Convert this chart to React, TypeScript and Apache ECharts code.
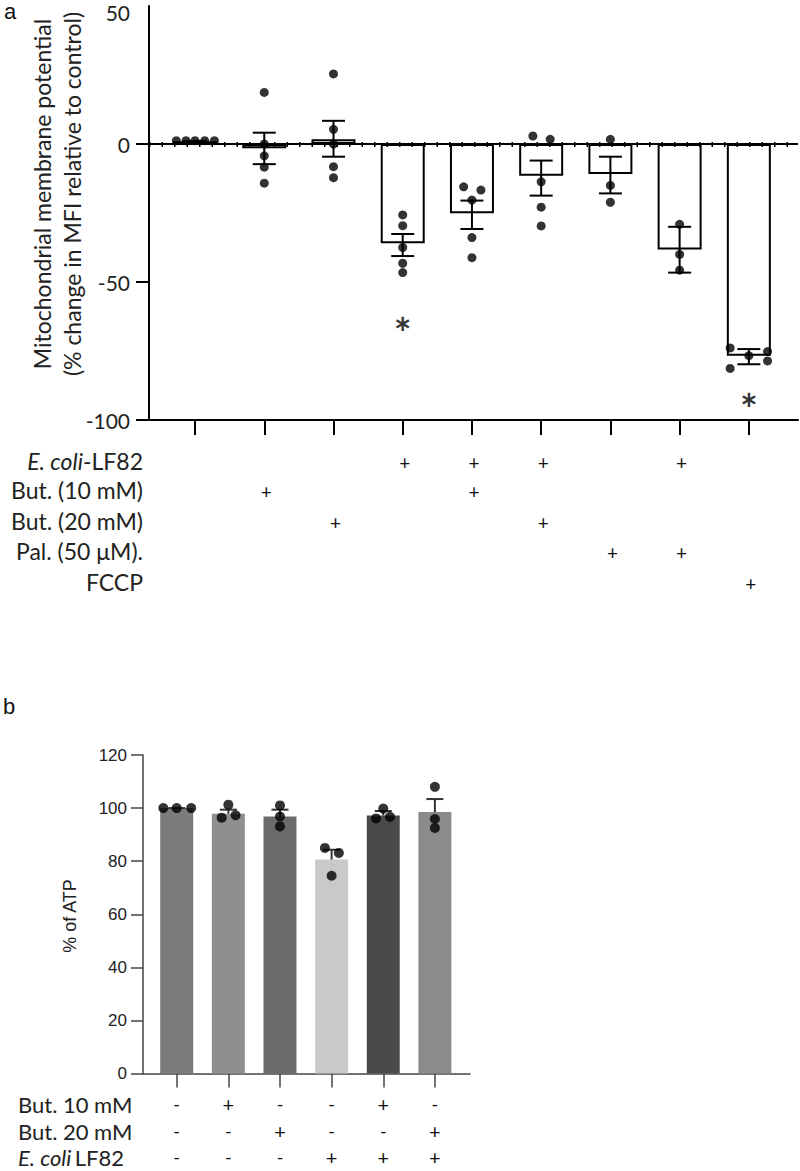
import React, { useEffect, useRef } from "react";
import * as echarts from "echarts";

// ---------- Panel a data ----------
const catPosA = [1, 2, 3, 4, 5, 6, 7, 8, 9];
const meansA = [1, -1.5, 1.7, -36, -25.1, -11.5, -10.9, -38.2, -76.7];
const errHiA = [1, 4.1, 8.4, -32.6, -20.5, -6, -4.6, -30, -74.3];
const errLoA = [1, -7.3, -4.6, -40.6, -30.8, -18.7, -17.9, -46.6, -79.8];
// [category, jitter offset, value]
const pointsA: [number, number, number][] = [
  [1, -0.27, 1.2], [1, -0.13, 1.2], [1, 0, 1.2], [1, 0.14, 1.2], [1, 0.28, 1.2],
  [2, 0, 18.7], [2, 0, 0], [2, 0, -4.3], [2, 0, -8.4], [2, 0, -14.2],
  [3, 0, 25.4], [3, 0, 5.3], [3, 0, 0], [3, 0, -8.2], [3, 0, -12.2],
  [4, 0, -25.7], [4, 0, -29.6], [4, 0, -37.5], [4, 0, -43.2], [4, 0, -46.6],
  [5, -0.12, -15.5], [5, 0.13, -16.7], [5, 0, -20.3], [5, 0, -33.9], [5, 0, -41.2],
  [6, -0.12, 2.9], [6, 0.13, 1.7], [6, 0, -13.7], [6, 0, -22.9], [6, 0, -29.7],
  [7, 0, 1.7], [7, 0, -15], [7, 0, -21.1],
  [8, 0, -29.1], [8, 0, -40], [8, 0, -45.7],
  [9, -0.27, -73.9], [9, -0.27, -81.3], [9, 0, -76.7], [9, 0.27, -75.2], [9, 0.27, -78.6],
];
const signifA: [number, number][] = [[4, -65], [9, -92.4]];
const yTicksA = { min: -100, max: 50, interval: 50 };
const rowLabelsA = ["E. coli-LF82", "But. (10 mM)", "But. (20 mM)", "Pal. (50 μM).", "FCCP"];
const rowMatrixA = [
  [0, 0, 0, 1, 1, 1, 0, 1, 0],
  [0, 1, 0, 0, 1, 0, 0, 0, 0],
  [0, 0, 1, 0, 0, 1, 0, 0, 0],
  [0, 0, 0, 0, 0, 0, 1, 1, 0],
  [0, 0, 0, 0, 0, 0, 0, 0, 1],
];
const yTitleA = "Mitochondrial membrane potential\n(% change in MFI relative to control)";

// ---------- Panel b data ----------
const catPosB = [1, 2, 3, 4, 5, 6];
const meansB = [100, 97.9, 96.8, 80.6, 97.2, 98.5];
const errTopB = [100, 99.4, 99.4, 84.3, 98.9, 103.4];
const colorsB = ["#7b7b7b", "#8f8f8f", "#6b6b6b", "#c9c9c9", "#4a4a4a", "#8b8b8b"];
const pointsB: [number, number, number][] = [
  [1, -0.26, 100], [1, 0, 100], [1, 0.28, 100],
  [2, 0, 101.3], [2, -0.13, 96.4], [2, 0.14, 97.3],
  [3, 0, 101], [3, 0, 96.8], [3, 0, 93.1],
  [4, -0.13, 85], [4, 0.14, 83.1], [4, 0, 74.5],
  [5, 0, 99.8], [5, -0.14, 96.1], [5, 0.13, 96.7],
  [6, 0, 108], [6, 0, 95.9], [6, 0, 92.5],
];
const yTicksB = { min: 0, max: 120, interval: 20 };
const rowLabelsB = ["But. 10 mM", "But. 20 mM", "E. coli LF82"];
const rowMatrixB = [
  [0, 1, 0, 0, 1, 0],
  [0, 0, 1, 0, 0, 1],
  [0, 0, 0, 1, 1, 1],
];
const yTitleB = "% of ATP";

const LATO = "Lato, 'Open Sans', sans-serif";
const ARIAL = "'Liberation Sans', Arial, sans-serif";

export default function App() {
  const ref = useRef<HTMLDivElement>(null);
  useEffect(() => {
    const chart = echarts.init(ref.current!, null, { renderer: "svg" });
    const option: any = {
      animation: false,
      backgroundColor: "#fff",
      grid: [
        { left: 149, top: 6, width: 649, height: 414 },
        { left: 143, top: 755, width: 327, height: 318.5 },
      ],
      xAxis: [
        {
          gridIndex: 0, type: "value", min: 0.335, max: 9.71,
          axisLine: { show: true, onZero: false, lineStyle: { color: "#000", width: 2 } },
          axisTick: { show: true, customValues: catPosA, length: 15, lineStyle: { color: "#000", width: 2 } },
          axisLabel: { show: false }, splitLine: { show: false },
        },
        {
          gridIndex: 1, type: "value", min: 0.347, max: 6.68,
          axisLine: { show: true, onZero: false, lineStyle: { color: "#444", width: 1.5 } },
          axisTick: { show: true, customValues: catPosB, length: 14, lineStyle: { color: "#444", width: 1.5 } },
          axisLabel: { show: false }, splitLine: { show: false },
        },
      ],
      yAxis: [
        {
          gridIndex: 0, type: "value", ...yTicksA,
          axisLine: { show: true, onZero: false, lineStyle: { color: "#000", width: 2 } },
          axisTick: { show: true, length: 13, lineStyle: { color: "#000", width: 2 } },
          axisLabel: { fontSize: 21, fontFamily: LATO, color: "#222", margin: 19, showMaxLabel: false },
          splitLine: { show: false },
        },
        {
          gridIndex: 1, type: "value", ...yTicksB,
          axisLine: { show: true, onZero: false, lineStyle: { color: "#444", width: 1.5 } },
          axisTick: { show: true, length: 12, lineStyle: { color: "#444", width: 1.5 } },
          axisLabel: { fontSize: 17, fontFamily: ARIAL, color: "#222", margin: 16 },
          splitLine: { show: false },
        },
      ],
      series: [
        {
          type: "bar", xAxisIndex: 0, yAxisIndex: 0, barWidth: 44,
          data: meansA.map((v, i) => [catPosA[i], v]),
          itemStyle: { color: "#fff", borderColor: "#000", borderWidth: 2 },
          markLine: {
            silent: true, symbol: "none", label: { show: false },
            data: [
              { yAxis: 0, lineStyle: { color: "#000", width: 2, type: "solid" } },
              { yAxis: 0, lineStyle: { color: "#000", width: 5, type: [1.5, 11] } },
            ],
          },
          z: 2,
        },
        {
          type: "custom", xAxisIndex: 0, yAxisIndex: 0, z: 3,
          data: catPosA.map((x, i) => [x, errHiA[i], errLoA[i]]),
          renderItem: (params: any, api: any) => {
            const x = api.value(0);
            const hi = api.coord([x, api.value(1)]);
            const lo = api.coord([x, api.value(2)]);
            const w = 11.5;
            const st = { stroke: "#000", lineWidth: 2 };
            return {
              type: "group",
              children: [
                { type: "line", shape: { x1: hi[0], y1: hi[1], x2: lo[0], y2: lo[1] }, style: st },
                { type: "line", shape: { x1: hi[0] - w, y1: hi[1], x2: hi[0] + w, y2: hi[1] }, style: st },
                { type: "line", shape: { x1: lo[0] - w, y1: lo[1], x2: lo[0] + w, y2: lo[1] }, style: st },
              ],
            };
          },
        },
        {
          type: "scatter", xAxisIndex: 0, yAxisIndex: 0, z: 4, symbolSize: 9,
          itemStyle: { color: "#000" },
          data: pointsA.map((p) => [p[0] + p[1], p[2]]),
        },
        {
          type: "scatter", xAxisIndex: 0, yAxisIndex: 0, z: 4, symbolSize: 1,
          itemStyle: { color: "rgba(0,0,0,0)" },
          label: {
            show: true, formatter: "*", position: "inside", fontSize: 42, fontWeight: "bold",
            fontFamily: LATO, color: "#000", offset: [0, 10],
          },
          data: signifA,
        },
        {
          type: "bar", xAxisIndex: 1, yAxisIndex: 1, barWidth: 33, z: 2,
          data: meansB.map((v, i) => ({ value: [catPosB[i], v], itemStyle: { color: colorsB[i] } })),
        },
        {
          type: "custom", xAxisIndex: 1, yAxisIndex: 1, z: 3,
          data: catPosB.map((x, i) => [x, meansB[i], errTopB[i]]),
          renderItem: (params: any, api: any) => {
            const x = api.value(0);
            const m = api.coord([x, api.value(1)]);
            const t = api.coord([x, api.value(2)]);
            const w = 8.5;
            const st = { stroke: "#333", lineWidth: 2 };
            return {
              type: "group",
              children: [
                { type: "line", shape: { x1: m[0], y1: m[1], x2: t[0], y2: t[1] }, style: st },
                { type: "line", shape: { x1: t[0] - w, y1: t[1], x2: t[0] + w, y2: t[1] }, style: st },
              ],
            };
          },
        },
        {
          type: "scatter", xAxisIndex: 1, yAxisIndex: 1, z: 4, symbolSize: 10,
          itemStyle: { color: "#000" },
          data: pointsB.map((p) => [p[0] + p[1], p[2]]),
        },
      ],
    };
    chart.setOption(option);

    const els: any[] = [];
    els.push({ type: "text", x: 4, y: 0, style: { text: "a", font: `22px ${ARIAL}`, fill: "#111" } });
    els.push({ type: "text", x: 3, y: 695, style: { text: "b", font: `22px ${ARIAL}`, fill: "#111" } });
    // top tick label of panel a (sits slightly below its tick in the reference)
    els.push({
      type: "text", x: 130, y: 12,
      style: { text: String(yTicksA.max), font: `21px ${LATO}`, fill: "#222", align: "right", verticalAlign: "middle" },
    });
    els.push({
      type: "text", x: 57, y: 194, rotation: Math.PI / 2,
      style: {
        text: yTitleA, font: `23px ${LATO}`, fill: "#222", align: "center",
        verticalAlign: "middle", lineHeight: 30,
      },
    });
    els.push({
      type: "text", x: 70, y: 916, rotation: Math.PI / 2,
      style: { text: yTitleB, font: `18px ${ARIAL}`, fill: "#222", align: "center", verticalAlign: "middle" },
    });

    const rowYA = [461, 490, 521, 551, 582];
    rowLabelsA.forEach((lab, r) => {
      const isEcoli = lab.startsWith("E. coli");
      els.push({
        type: "text", x: 143, y: rowYA[r],
        style: isEcoli
          ? {
              text: "{i|E. coli}{n|-LF82}", align: "right", verticalAlign: "middle",
              rich: {
                i: { font: `italic 23px ${LATO}`, fill: "#222" },
                n: { font: `23px ${LATO}`, fill: "#222" },
              },
            }
          : { text: lab, font: `23px ${LATO}`, fill: "#222", align: "right", verticalAlign: "middle" },
      });
      rowMatrixA[r].forEach((v, i) => {
        if (!v) return;
        const px = chart.convertToPixel({ xAxisIndex: 0 }, catPosA[i]) as number;
        els.push({
          type: "text", x: px + 2, y: rowYA[r] + 1,
          style: { text: "+", font: `19px ${LATO}`, fill: "#111", align: "center", verticalAlign: "middle" },
        });
      });
    });

    const rowYB = [1104, 1131, 1157];
    rowLabelsB.forEach((lab, r) => {
      const isEcoli = lab.startsWith("E. coli");
      els.push({
        type: "text", x: 18, y: rowYB[r],
        style: isEcoli
          ? {
              text: "{i|E. coli} {n|LF82}", align: "left", verticalAlign: "middle",
              rich: {
                i: { font: `italic 22px ${LATO}`, fill: "#222" },
                n: { font: `22px ${LATO}`, fill: "#222" },
              },
            }
          : { text: lab, font: `22px ${LATO}`, fill: "#222", align: "left", verticalAlign: "middle" },
      });
      rowMatrixB[r].forEach((v, i) => {
        const px = chart.convertToPixel({ xAxisIndex: 1 }, catPosB[i]) as number;
        els.push({
          type: "text", x: px, y: rowYB[r],
          style: {
            text: v ? "+" : "-", font: `${v ? 20 : 18}px ${LATO}`, fill: "#111",
            align: "center", verticalAlign: "middle",
          },
        });
      });
    });

    chart.setOption({ graphic: { elements: els } });
    return () => chart.dispose();
  }, []);
  return <div ref={ref} style={{ position: "absolute", left: 0, top: 0, width: 800, height: 1171 }} />;
}
